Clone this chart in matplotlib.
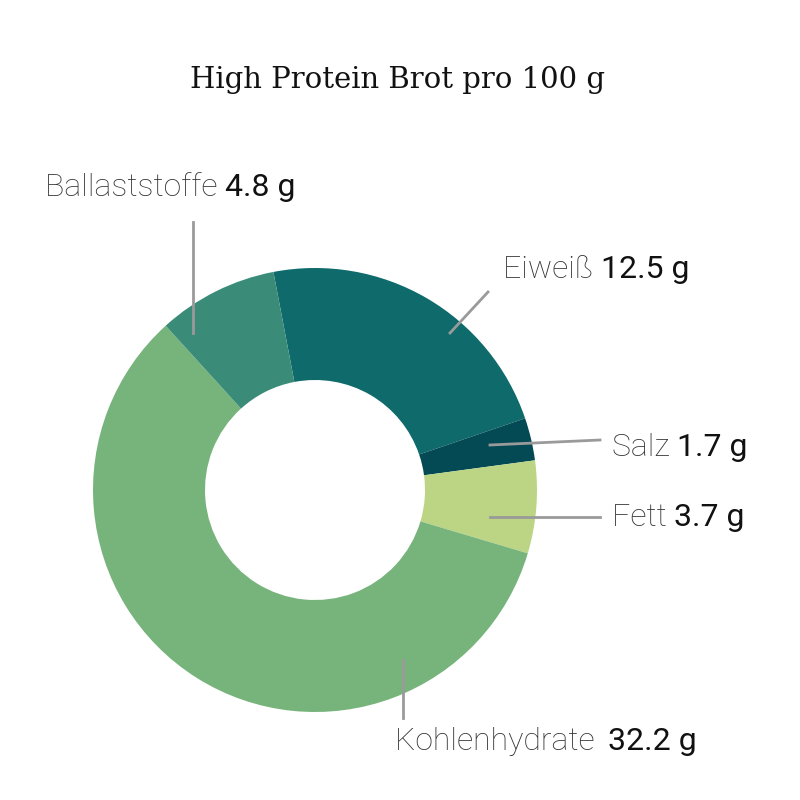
import matplotlib
matplotlib.use("Agg")
import matplotlib.pyplot as plt

title = "High Protein Brot pro 100 g"
categories = ["Eiweiß", "Salz", "Fett", "Kohlenhydrate", "Ballaststoffe"]
values = [12.5, 1.7, 3.7, 32.2, 4.8]
value_labels = ["12.5 g", "1.7 g", "3.7 g", "32.2 g", "4.8 g"]
colors = ["#0e6a6b", "#034a55", "#bcd585", "#77b47c", "#3a8c78"]

fig = plt.figure(figsize=(8, 8), dpi=100)
ax = fig.add_axes([0, 0, 1, 1])
ax.set_xlim(0, 800); ax.set_ylim(0, 800); ax.set_aspect("equal"); ax.axis("off")

ax.pie(values, colors=colors, startangle=100.8, counterclock=False,
       center=(315, 310), radius=222, wedgeprops=dict(width=112, linewidth=0))
ax.set_xlim(0, 800); ax.set_ylim(0, 800)

fig.text(0.497, 0.9, title, ha="center", va="center", fontsize=21,
         family="DejaVu Serif", color="#111111")

# leader lines (pixel coords, y from top)
lines = {"Ballaststoffe": [(193, 222), (193, 333)], "Eiweiß": [(488, 292), (450, 333)],
         "Salz": [(490, 445), (600, 440)], "Fett": [(490, 517), (600, 517)],
         "Kohlenhydrate": [(403, 660), (403, 718)]}
textpos = {"Ballaststoffe": (45, 188), "Eiweiß": (503, 270), "Salz": (612, 447),
           "Fett": (612, 517), "Kohlenhydrate": (395, 742)}
for c in categories:
    (x0, y0), (x1, y1) = lines[c]
    ax.plot([x0, x1], [800 - y0, 800 - y1], color="#9a9a9a", lw=2)

fig.canvas.draw()
r = fig.canvas.get_renderer()
for c, v in zip(categories, value_labels):
    x, y = textpos[c]
    t = ax.text(x, 800 - y, c + " ", fontsize=23, family="Roboto", fontweight="light",
                color="#333333", va="center", ha="left")
    bb = t.get_window_extent(r)
    x2 = bb.x1 + (6 if c == "Kohlenhydrate" else 0)
    ax.text(x2, 800 - y, v, fontsize=23, family="Roboto", fontweight="normal",
            color="#111111", va="center", ha="left")

fig.savefig("out.png", dpi=100)
